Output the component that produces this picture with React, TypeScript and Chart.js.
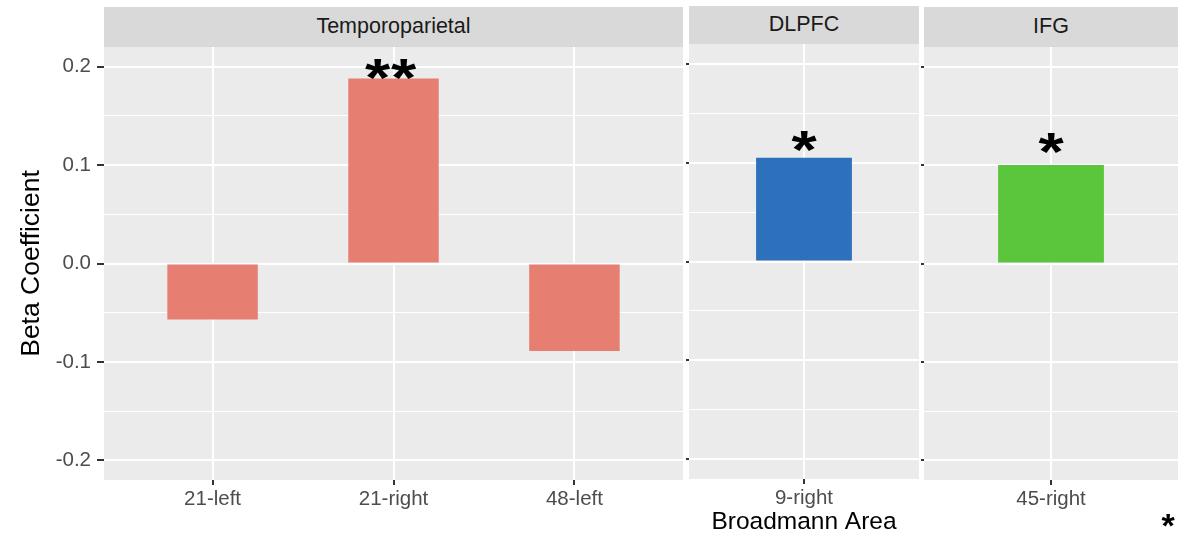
import React, { useEffect, useRef } from "react";
import { Chart, registerables } from "chart.js";

Chart.register(...registerables);

// ---------- data ----------
const facetNames = ["Temporoparietal", "DLPFC", "IFG"];

const tpAreas = ["21-left", "21-right", "48-left"];
const tpBetas = [-0.057, 0.188, -0.089];
const tpStars = ["", "**", ""];
const tpStarY = [null, 0.2, null];

const dlAreas = ["9-right"];
const dlBetas = [0.105];
const dlStars = ["*"];
const dlStarY = [0.125];

const ifAreas = ["45-right"];
const ifBetas = [0.1];
const ifStars = ["*"];
const ifStarY = [0.125];

const yTickValues = [-0.2, -0.15, -0.1, -0.05, 0, 0.05, 0.1, 0.15, 0.2];
const yTickLabels = ["-0.2", "", "-0.1", "", "0.0", "", "0.1", "", "0.2"];
const yMin = -0.22;
const yMax = 0.22;

const yTitle = "Beta Coefficient";
const xTitle = "Broadmann Area";
const footnote = "*";

const tpColor = "#E77E72";
const dlColor = "#2D71BC";
const ifColor = "#5BC63C";

const FONT = "'Liberation Sans', Arial, Helvetica, sans-serif";

const isMajor = (v: number) => Math.abs(v * 10 - Math.round(v * 10)) < 1e-6;

const panelBg = {
  id: "panelBg",
  beforeDraw(chart: any) {
    const { ctx, chartArea } = chart;
    ctx.save();
    ctx.fillStyle = "#EBEBEB";
    ctx.fillRect(chartArea.left, chartArea.top, chartArea.width, chartArea.height);
    ctx.restore();
  },
};

const starPlugin = {
  id: "stars",
  afterDatasetsDraw(chart: any, _args: any, opts: any) {
    const { ctx } = chart;
    const meta = chart.getDatasetMeta(0);
    const stars: string[] = opts.stars || [];
    const ys: (number | null)[] = opts.ys || [];
    const size = 54;
    const step = 26;
    stars.forEach((s, i) => {
      if (!s || ys[i] == null) return;
      const el = meta.data[i];
      const yPix = chart.scales.y.getPixelForValue(ys[i]);
      const chars = s.split("");
      const x0 = el.x - 3 - ((chars.length - 1) * step) / 2;
      chars.forEach((ch, k) => {
        ctx.save();
        ctx.fillStyle = "#000";
        ctx.font = `bold ${size}px ${FONT}`;
        ctx.textAlign = "center";
        ctx.textBaseline = "alphabetic";
        ctx.translate(chars.length > 1 ? x0 + k * step : el.x, yPix + 0.55 * size);
        ctx.scale(1.2, 1);
        ctx.fillText(ch, 0, 0);
        ctx.restore();
      });
    });
  },
};

type PanelSpec = {
  areas: string[];
  betas: number[];
  stars: string[];
  starY: (number | null)[];
  color: string;
  showY: boolean;
  yWidth: number;
  padTop: number;
  xHeight: number;
  showXTitle: boolean;
};

function makeChart(canvas: HTMLCanvasElement, p: PanelSpec) {
  const xmax = p.areas.length - 1 + 0.6;
  const xmin = -0.6;
  const single = p.areas.length === 1;
  return new Chart(canvas, {
    type: "bar",
    data: {
      datasets: [
        {
          data: p.betas.map((v, i) => ({ x: i, y: v })),
          backgroundColor: p.color,
          borderWidth: 0,
          categoryPercentage: 1,
          barPercentage: single ? 0.5 / (xmax - xmin) : 0.5,
        } as any,
      ],
    },
    options: {
      animation: false,
      responsive: false,
      maintainAspectRatio: false,
      layout: { padding: { top: p.padTop, left: 0, right: 0, bottom: 0 } },
      plugins: {
        legend: { display: false },
        tooltip: { enabled: false },
        stars: { stars: p.stars, ys: p.starY },
      } as any,
      scales: {
        x: {
          type: "linear",
          min: xmin,
          max: xmax,
          offset: false,
          afterBuildTicks: (s: any) => {
            s.ticks = p.areas.map((_, i) => ({ value: i }));
          },
          afterFit: (s: any) => {
            s.height = p.xHeight;
          },
          ticks: {
            autoSkip: false,
            maxRotation: 0,
            padding: 2,
            color: "#4D4D4D",
            font: { family: FONT, size: 20.5 },
            callback: (v: any) => p.areas[Math.round(Number(v))] ?? "",
          },
          grid: {
            offset: false,
            color: "#FFFFFF",
            lineWidth: 2,
            drawTicks: true,
            tickLength: 5,
            tickColor: "#333333",
            tickWidth: 2,
          },
          border: { display: false },
          title: {
            display: p.showXTitle,
            text: xTitle,
            color: "#000",
            font: { family: FONT, size: 24.5, lineHeight: 1 },
            padding: { top: 0, bottom: 0 },
          },
        } as any,
        y: {
          type: "linear",
          min: yMin,
          max: yMax,
          afterBuildTicks: (s: any) => {
            s.ticks = yTickValues.map((v) => ({ value: v }));
          },
          afterFit: (s: any) => {
            s.width = p.yWidth;
          },
          ticks: {
            display: p.showY,
            padding: 6,
            color: "#4D4D4D",
            font: { family: FONT, size: 20.5 },
            callback: (_v: any, i: number) => yTickLabels[i] ?? "",
          },
          grid: {
            color: "#FFFFFF",
            lineWidth: (c: any) => (c.tick && isMajor(c.tick.value) ? 2 : 1),
            drawTicks: true,
            tickLength: p.showY ? 7 : 3,
            tickColor: (c: any) => (c.tick && isMajor(c.tick.value) ? "#333333" : "rgba(0,0,0,0)"),
            tickWidth: 2,
          },
          border: { display: false },
          title: {
            display: p.showY,
            text: yTitle,
            color: "#000",
            font: { family: FONT, size: 26.5, lineHeight: 1 },
            padding: { top: 18, bottom: 0 },
          },
        } as any,
      },
    },
    plugins: [panelBg, starPlugin],
  });
}

const stripStyle = (left: number, top: number, width: number, height: number): React.CSSProperties => ({
  position: "absolute",
  left,
  top,
  width,
  height,
  background: "#D9D9D9",
  color: "#1A1A1A",
  fontFamily: FONT,
  fontSize: 21.5,
  display: "flex",
  alignItems: "center",
  justifyContent: "center",
  lineHeight: 1,
});

export default function App() {
  const c1 = useRef<HTMLCanvasElement>(null);
  const c2 = useRef<HTMLCanvasElement>(null);
  const c3 = useRef<HTMLCanvasElement>(null);

  useEffect(() => {
    const charts: Chart[] = [];
    if (c1.current)
      charts.push(
        makeChart(c1.current, {
          areas: tpAreas, betas: tpBetas, stars: tpStars, starY: tpStarY, color: tpColor,
          showY: true, yWidth: 104, padTop: 47, xHeight: 54, showXTitle: false,
        })
      );
    if (c2.current)
      charts.push(
        makeChart(c2.current, {
          areas: dlAreas, betas: dlBetas, stars: dlStars, starY: dlStarY, color: dlColor,
          showY: false, yWidth: 3, padTop: 44, xHeight: 55, showXTitle: true,
        })
      );
    if (c3.current)
      charts.push(
        makeChart(c3.current, {
          areas: ifAreas, betas: ifBetas, stars: ifStars, starY: ifStarY, color: ifColor,
          showY: false, yWidth: 3, padTop: 47, xHeight: 54, showXTitle: false,
        })
      );
    return () => charts.forEach((c) => c.destroy());
  }, []);

  return (
    <div
      style={{
        position: "absolute",
        left: 0,
        top: 0,
        width: 1178,
        height: 534,
        overflow: "hidden",
        background: "#FFFFFF",
      }}
    >
      <canvas ref={c1} width={683} height={534} style={{ position: "absolute", left: 0, top: 0, width: 683, height: 534 }} />
      <canvas ref={c2} width={233} height={534} style={{ position: "absolute", left: 686, top: 0, width: 233, height: 534 }} />
      <canvas ref={c3} width={257} height={534} style={{ position: "absolute", left: 921, top: 0, width: 257, height: 534 }} />
      <div style={stripStyle(104, 7, 579, 40)}>{facetNames[0]}</div>
      <div style={stripStyle(689, 6, 230, 38)}>{facetNames[1]}</div>
      <div style={stripStyle(924, 7, 254, 40)}>{facetNames[2]}</div>
      <div
        style={{
          position: "absolute",
          left: 1150,
          top: 505,
          width: 36,
          height: 40,
          lineHeight: "40px",
          textAlign: "center",
          fontFamily: FONT,
          fontWeight: "bold",
          fontSize: 34,
          color: "#000",
        }}
      >
        {footnote}
      </div>
    </div>
  );
}
